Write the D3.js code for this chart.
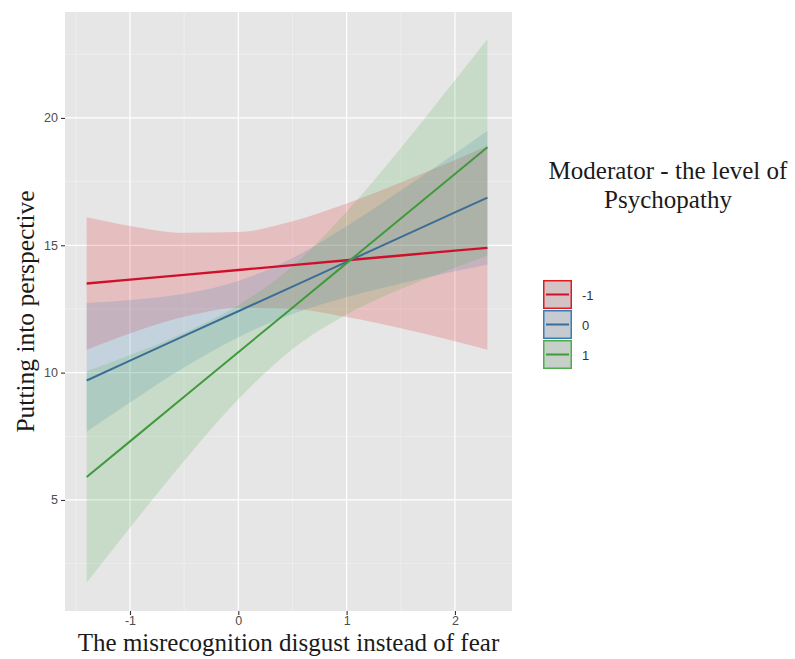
<!DOCTYPE html>
<html>
<head>
<meta charset="utf-8">
<script src="https://cdn.jsdelivr.net/npm/d3@7"></script>
<style>
  html, body { margin: 0; padding: 0; background: #ffffff; }
  svg { display: block; }
</style>
</head>
<body>
<svg id="chart" width="795" height="659"></svg>
<script>
// Predicted values of "Putting into perspective" at three moderator levels
const xs = [-1.4, -1.0, -0.5, 0, 0.5, 1.0, 1.5, 2.0, 2.3];
const levels = ["-1", "0", "1"];
const colors = ["#e41a1c", "#377eb8", "#4daf4a"];
const lineColors = ["#d0102a", "#3b6d96", "#3f9a3c"];

const fitLow  = [13.50, 13.65, 13.84, 14.03, 14.22, 14.41, 14.60, 14.79, 14.90];
const fitMid  = [9.69, 10.47, 11.44, 12.41, 13.38, 14.35, 15.32, 16.29, 16.87];
const fitHigh = [5.90, 7.30, 9.05, 10.80, 12.55, 14.30, 16.05, 17.80, 18.85];

const lowerLow  = [10.90, 11.54, 12.19, 12.54, 12.50, 12.18, 11.74, 11.23, 10.90];
const upperLow  = [16.10, 15.76, 15.49, 15.52, 15.94, 16.64, 17.47, 18.35, 18.90];
const lowerMid  = [7.68, 8.83, 10.20, 11.39, 12.30, 12.96, 13.50, 13.98, 14.25];
const upperMid  = [12.73, 12.85, 13.10, 13.60, 14.50, 15.75, 17.15, 18.60, 19.50];
const lowerHigh = [1.75, 3.91, 6.53, 8.95, 10.92, 12.28, 13.28, 14.12, 14.60];
const upperHigh = [10.05, 10.69, 11.57, 12.65, 14.18, 16.32, 18.82, 21.48, 23.10];

const xTicks = [-1, 0, 1, 2];
const xMinor = [-1.5, -0.5, 0.5, 1.5];
const yTicks = [5, 10, 15, 20];
const yMinor = [2.5, 7.5, 12.5, 17.5, 22.5];

const series = [
  { level: levels[0], fit: fitLow,  lo: lowerLow,  hi: upperLow,  fill: colors[0], stroke: lineColors[0] },
  { level: levels[1], fit: fitMid,  lo: lowerMid,  hi: upperMid,  fill: colors[1], stroke: lineColors[1] },
  { level: levels[2], fit: fitHigh, lo: lowerHigh, hi: upperHigh, fill: colors[2], stroke: lineColors[2] }
];

const panel = { left: 65, top: 12, right: 512, bottom: 611 };
const svg = d3.select("#chart");

const x = d3.scaleLinear().domain([-1.6, 2.527]).range([panel.left, panel.right]);
const y = d3.scaleLinear().domain([0.64, 24.16]).range([panel.bottom, panel.top]);

// panel background
svg.append("rect")
  .attr("x", panel.left).attr("y", panel.top)
  .attr("width", panel.right - panel.left).attr("height", panel.bottom - panel.top)
  .attr("fill", "#e6e6e6");

// grid
const grid = svg.append("g");
grid.selectAll(".xmin").data(xMinor).join("line")
  .attr("x1", d => x(d)).attr("x2", d => x(d))
  .attr("y1", panel.top).attr("y2", panel.bottom)
  .attr("stroke", "#f4f4f4").attr("stroke-width", 0.6);
grid.selectAll(".ymin").data(yMinor).join("line")
  .attr("y1", d => y(d)).attr("y2", d => y(d))
  .attr("x1", panel.left).attr("x2", panel.right)
  .attr("stroke", "#f4f4f4").attr("stroke-width", 0.6);
grid.selectAll(".xmaj").data(xTicks).join("line")
  .attr("x1", d => x(d)).attr("x2", d => x(d))
  .attr("y1", panel.top).attr("y2", panel.bottom)
  .attr("stroke", "#ffffff").attr("stroke-width", 1.2);
grid.selectAll(".ymaj").data(yTicks).join("line")
  .attr("y1", d => y(d)).attr("y2", d => y(d))
  .attr("x1", panel.left).attr("x2", panel.right)
  .attr("stroke", "#ffffff").attr("stroke-width", 1.2);

// confidence bands
const area = d3.area()
  .x((d, i) => x(xs[i]))
  .y0(d => y(d[0]))
  .y1(d => y(d[1]))
  .curve(d3.curveMonotoneX);

svg.append("g").selectAll("path").data(series).join("path")
  .attr("d", s => area(s.lo.map((v, i) => [v, s.hi[i]])))
  .attr("fill", s => s.fill)
  .attr("fill-opacity", 0.19);

// fitted lines
const line = d3.line()
  .x((d, i) => x(xs[i]))
  .y(d => y(d));

svg.append("g").selectAll("path").data(series).join("path")
  .attr("d", s => line(s.fit))
  .attr("fill", "none")
  .attr("stroke", s => s.stroke)
  .attr("stroke-width", (s, i) => i === 0 ? 2.4 : 2);

// axes (plain hyphen for negative labels)
const xAxis = d3.axisBottom(x).tickValues(xTicks).tickSize(4).tickPadding(2).tickFormat(d => String(d));
const yAxis = d3.axisLeft(y).tickValues(yTicks).tickSize(4).tickPadding(3).tickFormat(d => String(d));

const gx = svg.append("g").attr("transform", `translate(0,${panel.bottom})`).call(xAxis);
const gy = svg.append("g").attr("transform", `translate(${panel.left},0)`).call(yAxis);
[gx, gy].forEach(g => {
  g.select(".domain").remove();
  g.selectAll(".tick line").attr("stroke", "#333333").attr("stroke-width", 1.1);
  g.selectAll(".tick text")
    .attr("fill", "#4d4d4d")
    .style("font-family", "'Liberation Sans', Arial, sans-serif")
    .style("font-size", "12.5px");
});
gx.selectAll(".tick text").attr("dy", "0.62em");

// axis titles
const serif = "'Liberation Serif', 'Times New Roman', serif";
svg.append("text")
  .attr("x", (panel.left + panel.right) / 2)
  .attr("y", 651)
  .attr("text-anchor", "middle")
  .attr("fill", "#1a1a1a")
  .style("font-family", serif)
  .style("font-size", "25px")
  .text("The misrecognition disgust instead of fear");

svg.append("text")
  .attr("transform", `translate(34,${(panel.top + panel.bottom) / 2}) rotate(-90)`)
  .attr("text-anchor", "middle")
  .attr("fill", "#1a1a1a")
  .style("font-family", serif)
  .style("font-size", "25.5px")
  .text("Putting into perspective");

// legend
const legend = svg.append("g");
legend.append("text")
  .attr("x", 668).attr("y", 179)
  .attr("text-anchor", "middle")
  .attr("fill", "#1a1a1a")
  .style("font-family", serif)
  .style("font-size", "25px")
  .text("Moderator - the level of");
legend.append("text")
  .attr("x", 668).attr("y", 208)
  .attr("text-anchor", "middle")
  .attr("fill", "#1a1a1a")
  .style("font-family", serif)
  .style("font-size", "25px")
  .text("Psychopathy");

const keyX = 543, keyY = 280, keyW = 29, keyH = 30;
const keys = legend.selectAll(".key").data(series).join("g")
  .attr("transform", (s, i) => `translate(${keyX},${keyY + i * keyH})`);
keys.append("rect")
  .attr("width", keyW).attr("height", keyH - 1)
  .attr("fill", "#d2d2d4");
keys.append("rect")
  .attr("x", 0.75).attr("y", 0.75)
  .attr("width", keyW - 1.5).attr("height", keyH - 2.5)
  .attr("fill", s => s.fill).attr("fill-opacity", 0.08)
  .attr("stroke", s => s.fill).attr("stroke-width", 1.5);
keys.append("line")
  .attr("x1", 3).attr("x2", keyW - 3)
  .attr("y1", (keyH - 1) / 2).attr("y2", (keyH - 1) / 2)
  .attr("stroke", s => s.stroke).attr("stroke-width", 2);
keys.append("text")
  .attr("x", keyW + 10).attr("y", (keyH - 1) / 2 + 5)
  .attr("fill", "#333333")
  .style("font-family", "'Liberation Sans', Arial, sans-serif")
  .style("font-size", "13px")
  .text(s => s.level);
</script>
</body>
</html>
